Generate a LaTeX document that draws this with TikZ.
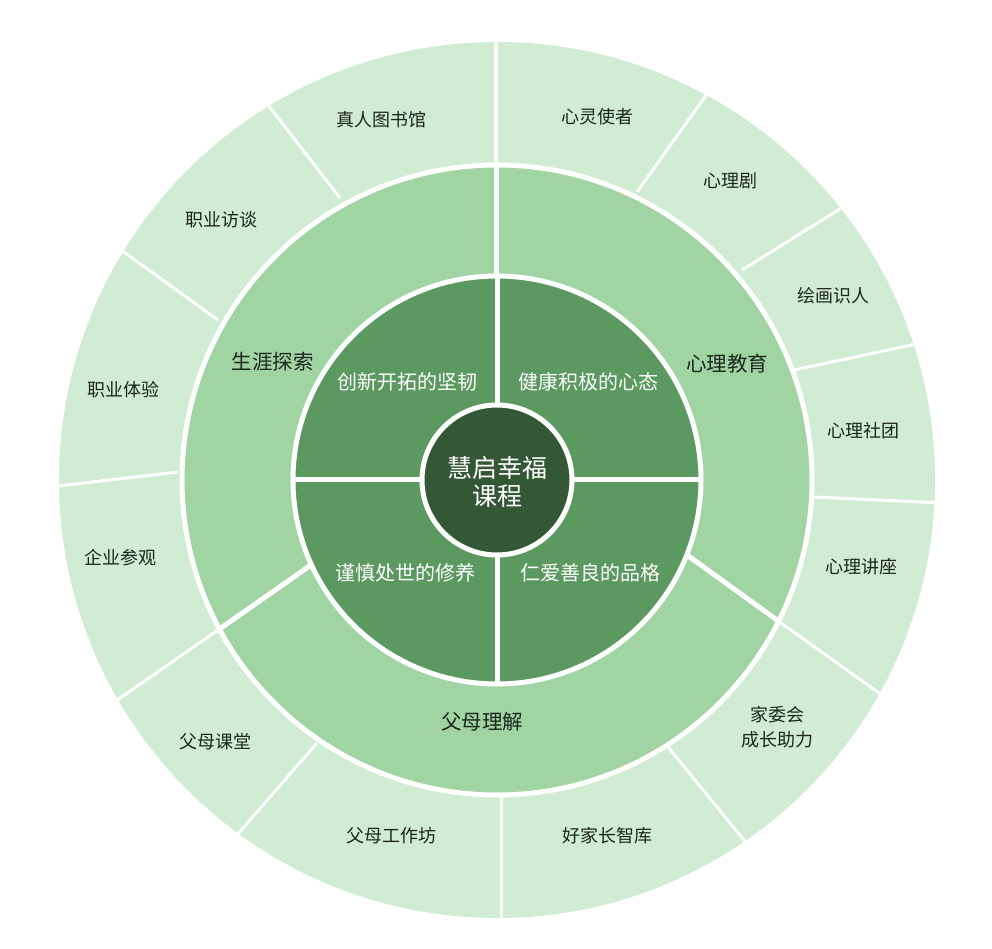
\documentclass[tikz,border=0pt]{standalone}
\usepackage{fontspec}
\setmainfont{Noto Sans CJK SC}
\definecolor{outerc}{RGB}{208,236,211}
\definecolor{midc}{RGB}{160,212,163}
\definecolor{innerc}{RGB}{92,153,97}
\definecolor{centerc}{RGB}{52,87,54}
\definecolor{labc}{RGB}{28,38,28}
\tikzset{
  outerlab/.style={font=\fontsize{18}{25}\selectfont, text=labc, align=center, inner sep=0pt},
  midlab/.style={font=\fontsize{20.5}{25}\selectfont, text=labc, align=center, inner sep=0pt},
  innerlab/.style={font=\fontsize{20}{25}\selectfont, text=white, align=center, inner sep=0pt},
  centerlab/.style={font=\fontsize{25}{28}\selectfont, text=white, align=center, inner sep=0pt},
  thinsep/.style={draw=white, line width=3pt},
  thicksep/.style={draw=white, line width=5pt},
}
\begin{document}
\begin{tikzpicture}[x=1pt,y=1pt]
\useasboundingbox (-497,-469) rectangle (495,480);
% outer ring
\fill[outerc] (0,0) circle (438);
\begin{scope}
  \clip (0,0) circle (438);
  \draw[thinsep] (-157,282) -- (-235,383);
  \draw[thinsep] (-279,160) -- (-380,233);
  \draw[thinsep] (-319,8) -- (-447,-7);
  \draw[thinsep] (-279,-150) -- (-384,-223);
  \draw[thinsep] (-180,-263) -- (-261,-356);
  \draw[thinsep] (4.5,-317) -- (4.5,-445);
  \draw[thinsep] (171,-267) -- (251,-365);
  \draw[thinsep] (280,-140) -- (389,-218);
  \draw[thinsep] (316,-17) -- (446,-23);
  \draw[thinsep] (297,110) -- (424,137);
  \draw[thinsep] (245,210) -- (354,278);
  \draw[thinsep] (140,288) -- (215,393);
  \draw[draw=white, line width=4pt] (-1,300) -- (-1,445);
\end{scope}
% middle ring
\filldraw[fill=midc, draw=white, line width=5pt] (0,0) circle (315);
\draw[thicksep] (-1,204) -- (-1,318);
\draw[thicksep] (-186,-85) -- (-281,-151.5);
\draw[thicksep] (190,-75) -- (282,-141.5);
% inner ring
\filldraw[fill=innerc, draw=white, line width=5pt] (0,0) circle (204);
\draw[thicksep] (0,-206) -- (0,206);
\draw[thicksep] (-206,0) -- (206,0);
% center
\filldraw[fill=centerc, draw=white, line width=5pt] (0,0) circle (75);
% labels
\node[centerlab] (c) at (0,-2) {慧启幸福\\课程};
\node[innerlab] (i1) at (-89,98) {创新开拓的坚韧};
\node[innerlab] (i2) at (91,98) {健康积极的心态};
\node[innerlab] (i3) at (-91,-93) {谨慎处世的修养};
\node[innerlab] (i4) at (93,-93) {仁爱善良的品格};
\node[midlab] (m1) at (-224,118) {生涯探索};
\node[midlab] (m2) at (230,116) {心理教育};
\node[midlab] (m3) at (-15,-242) {父母理解};
\node[outerlab] (o1) at (-115,360) {真人图书馆};
\node[outerlab] (o2) at (-275,260) {职业访谈};
\node[outerlab] (o3) at (-373,90) {职业体验};
\node[outerlab] (o4) at (-376,-78) {企业参观};
\node[outerlab] (o5) at (-281,-262) {父母课堂};
\node[outerlab] (o6) at (-105,-356) {父母工作坊};
\node[outerlab] (o7) at (110,-356) {好家长智库};
\node[outerlab] (o8) at (280,-247) {家委会\\成长助力};
\node[outerlab] (o9) at (364,-87) {心理讲座};
\node[outerlab] (o10) at (366,49) {心理社团};
\node[outerlab] (o11) at (336,184) {绘画识人};
\node[outerlab] (o12) at (233,299) {心理剧};
\node[outerlab] (o13) at (100,363) {心灵使者};
\end{tikzpicture}
\end{document}
